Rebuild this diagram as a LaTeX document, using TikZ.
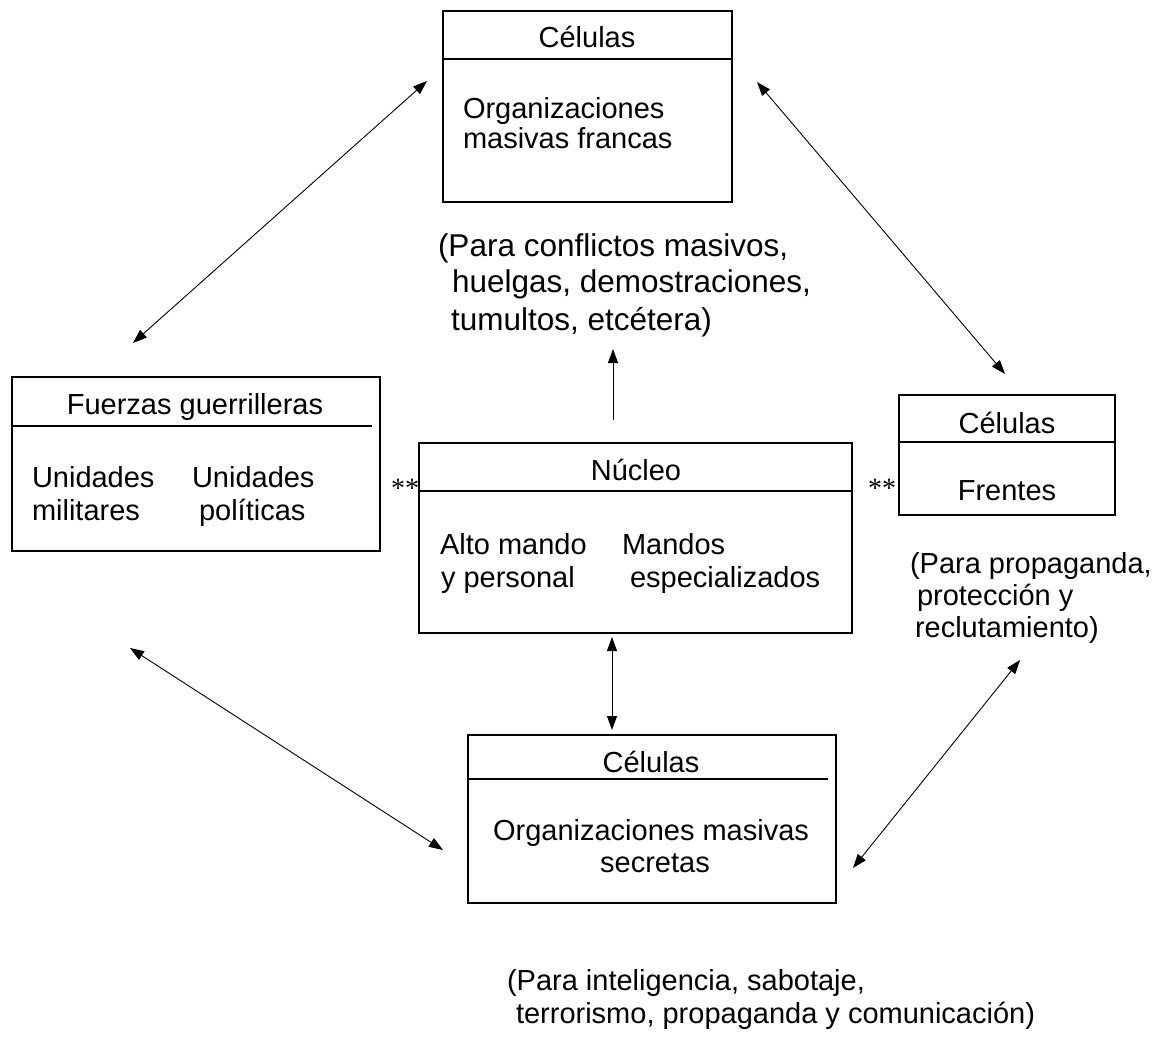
\documentclass[tikz,border=0pt]{standalone}
\usepackage{fontspec}
\setmainfont{Liberation Sans}
\newfontfamily\astfont{Liberation Serif}
\usetikzlibrary{arrows.meta}
\begin{document}
\begin{tikzpicture}[x=1pt,y=-1pt,
  box/.style={draw, line width=1.1pt, inner sep=0pt, outer sep=0pt, anchor=north west},
  divider/.style={line width=1.1pt},
  conn/.style={{Triangle[length=14pt,width=10pt]}-{Triangle[length=14pt,width=10pt]}, line width=0.9pt},
  oneway/.style={-{Triangle[length=14pt,width=10pt]}, line width=0.9pt},
  txt/.style={font=\fontsize{29}{35}\selectfont, inner sep=0pt, outer sep=0pt},
  bigtxt/.style={font=\fontsize{31.5}{37}\selectfont, inner sep=0pt, outer sep=0pt},
  ast/.style={font=\astfont\fontsize{28}{30}\selectfont, inner sep=0pt, outer sep=0pt}]
\useasboundingbox[fill=white] (0,0) rectangle (1155,1040);

% boxes
\node[box, minimum width=289pt, minimum height=191pt] (top) at (443,11) {};
\node[box, minimum width=368pt, minimum height=174pt] (fuerzas) at (12,377) {};
\node[box, minimum width=433pt, minimum height=190pt] (nucleo) at (419,443) {};
\node[box, minimum width=216pt, minimum height=120pt] (frentes) at (899,395) {};
\node[box, minimum width=368pt, minimum height=168pt] (secretas) at (468,735) {};

% dividers
\draw[divider] ([yshift=-48pt]top.north west) -- ([yshift=-48pt]top.north east);
\draw[divider] ([yshift=-49pt]fuerzas.north west) -- ([yshift=-49pt,xshift=-8pt]fuerzas.north east);
\draw[divider] ([yshift=-48pt]nucleo.north west) -- ([yshift=-48pt]nucleo.north east);
\draw[divider] ([yshift=-47pt]frentes.north west) -- ([yshift=-47pt]frentes.north east);
\draw[divider] ([yshift=-44pt]secretas.north west) -- ([yshift=-44pt,xshift=-8pt]secretas.north east);

% texts in top box
\node[txt, anchor=base] (t1) at (587,48) {Células};
\node[txt, anchor=base west] (t2) at (463,119) {Organizaciones};
\node[txt, anchor=base west] (t3) at (463,149) {masivas francas};

% fuerzas box
\node[txt, anchor=base] (f1) at (195,414) {Fuerzas guerrilleras};
\node[txt, anchor=base west] (f2) at (32,487) {Unidades};
\node[txt, anchor=base west] (f3) at (32,520) {militares};
\node[txt, anchor=base west] (f4) at (192,487) {Unidades};
\node[txt, anchor=base west] (f5) at (199,520) {políticas};

% nucleo box
\node[txt, anchor=base] (n1) at (636,480) {Núcleo};
\node[txt, anchor=base west] (n2) at (440,554) {Alto mando};
\node[txt, anchor=base west] (n3) at (441,587) {y personal};
\node[txt, anchor=base west] (n4) at (622,554) {Mandos};
\node[txt, anchor=base west] (n5) at (630,587) {especializados};

% frentes box
\node[txt, anchor=base] (r1) at (1007,433) {Células};
\node[txt, anchor=base] (r2) at (1007,500) {Frentes};

% secretas box
\node[txt, anchor=base] (s1) at (651,772) {Células};
\node[txt, anchor=base] (s2) at (651,840) {Organizaciones masivas};
\node[txt, anchor=base] (s3) at (655,872) {secretas};

% asterisks
\node[ast, anchor=base east] (a1) at (419,497) {**};
\node[ast, anchor=base east] (a2) at (896,497) {**};

% annotations
\node[bigtxt, anchor=base west] (c1) at (438,257) {(Para conflictos masivos,};
\node[bigtxt, anchor=base west] (c2) at (452,293) {huelgas, demostraciones,};
\node[bigtxt, anchor=base west] (c3) at (451,330) {tumultos, etcétera)};

\node[txt, anchor=base west] (p1) at (910,573) {(Para propaganda,};
\node[txt, anchor=base west] (p2) at (917,605) {protección y};
\node[txt, anchor=base west] (p3) at (915,637) {reclutamiento)};

\node[txt, anchor=base west] (i1) at (507,990) {(Para inteligencia, sabotaje,};
\node[txt, anchor=base west] (i2) at (516,1023) {terrorismo, propaganda y comunicación)};

% connector end points
\coordinate (tlA) at (133,343);
\coordinate (tlB) at (427,81);
\coordinate (trA) at (757,82);
\coordinate (trB) at (1005,374);
\coordinate (upA) at (613,420);
\coordinate (upB) at (613,349);
\coordinate (vdA) at (612,637);
\coordinate (vdB) at (612,730);
\coordinate (blA) at (130,648);
\coordinate (blB) at (443,850);
\coordinate (brA) at (1020,660);
\coordinate (brB) at (853,868);

\draw[conn] (tlA) -- (tlB);
\draw[conn] (trA) -- (trB);
\draw[oneway] (upA) -- (upB);
\draw[conn] (vdA) -- (vdB);
\draw[conn] (blA) -- (blB);
\draw[conn] (brA) -- (brB);
\end{tikzpicture}
\end{document}
